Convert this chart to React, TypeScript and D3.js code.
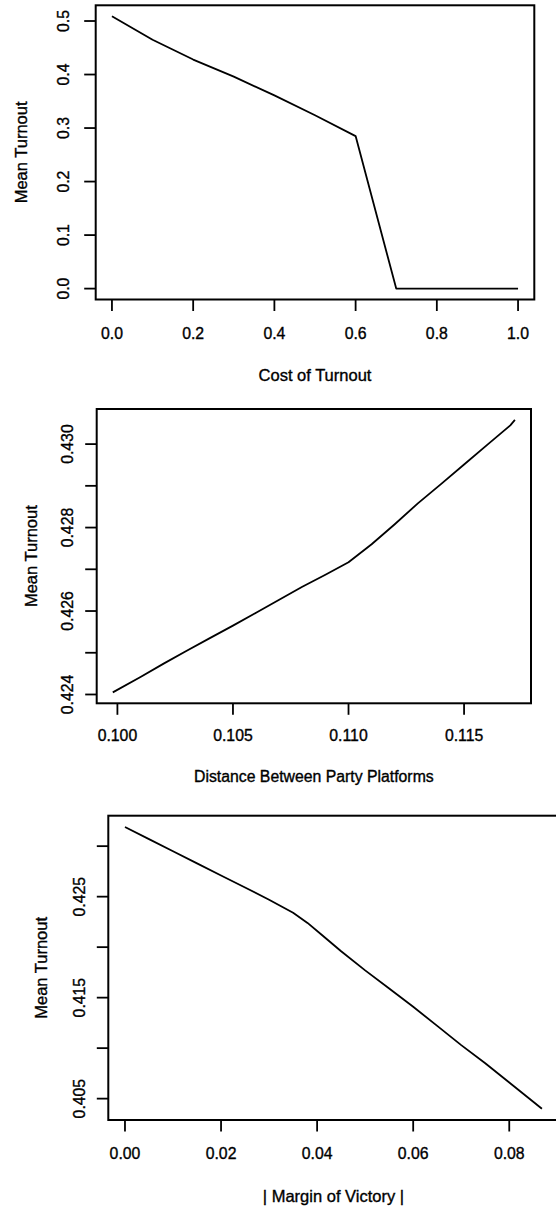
import React from "react";
import * as d3 from "d3";

// --- panel 1: cost of turnout ---
const costX = [0, 0.1, 0.2, 0.3, 0.4, 0.5, 0.6, 0.7, 0.8, 0.9, 1.0];
const costTurnout = [0.509, 0.465, 0.428, 0.396, 0.361, 0.324, 0.285, 0, 0, 0, 0];
const costXTicks = [0, 0.2, 0.4, 0.6, 0.8, 1.0];
const costYTicks = [0, 0.1, 0.2, 0.3, 0.4, 0.5];
const costYLabeled = [0, 0.1, 0.2, 0.3, 0.4, 0.5];

// --- panel 2: distance between party platforms ---
const distX = [0.0998, 0.101, 0.102, 0.103, 0.104, 0.105, 0.106, 0.107, 0.108, 0.109, 0.11,
  0.111, 0.112, 0.113, 0.114, 0.115, 0.116, 0.117, 0.1172];
const distTurnout = [0.42405, 0.42442, 0.42474, 0.42505, 0.42535, 0.42565, 0.42596, 0.42627,
  0.42658, 0.42687, 0.42717, 0.4276, 0.42808, 0.42858, 0.42904, 0.42951, 0.42998, 0.43045, 0.43058];
const distXTicks = [0.1, 0.105, 0.11, 0.115];
const distYTicks = [0.424, 0.425, 0.426, 0.427, 0.428, 0.429, 0.43];
const distYLabeled = [0.424, 0.426, 0.428, 0.43];

// --- panel 3: margin of victory ---
const marginX = [0, 0.005, 0.01, 0.015, 0.02, 0.025, 0.03, 0.035, 0.038, 0.041, 0.045, 0.05,
  0.055, 0.06, 0.065, 0.07, 0.075, 0.08, 0.0868];
const marginTurnout = [0.4319, 0.4307, 0.4295, 0.4283, 0.4271, 0.4259, 0.4247, 0.4234, 0.4224,
  0.4212, 0.4196, 0.4177, 0.4159, 0.4141, 0.4122, 0.4103, 0.4085, 0.4066, 0.404];
const marginXTicks = [0, 0.02, 0.04, 0.06, 0.08];
const marginYTicks = [0.405, 0.41, 0.415, 0.42, 0.425, 0.43];
const marginYLabeled = [0.405, 0.415, 0.425];

const FONT = "'Liberation Sans', Arial, Helvetica, sans-serif";

type PanelProps = {
  xs: number[];
  ys: number[];
  xTicks: number[];
  yTicks: number[];
  yLabeled: number[];
  xFmt: (v: number) => string;
  yFmt: (v: number) => string;
  xLabel: string;
  xLabelSize: number;
  box: { l: number; r: number; t: number; b: number };
  xTickLabelY: number;
  xTitleY: number;
  yTickLabelX: number;
  yTitleX: number;
};

// R-style: data range padded 4% each side
const padded = (v: number[]) => {
  const [lo, hi] = d3.extent(v) as [number, number];
  const p = (hi - lo) * 0.04;
  return [lo - p, hi + p];
};

const Panel: React.FC<PanelProps> = (p) => {
  const { box } = p;
  const x = d3.scaleLinear().domain(padded(p.xs)).range([box.l, box.r]);
  const y = d3.scaleLinear().domain(padded(p.ys)).range([box.b, box.t]);
  const pts = p.xs.map((v, i) => [v, p.ys[i]] as [number, number]);
  const line = d3.line<[number, number]>().x((d) => x(d[0])).y((d) => y(d[1]));
  const tick = 11.5;
  const cy = (box.t + box.b) / 2;
  const cx = (box.l + box.r) / 2;
  // scanned text looks heavier, thicken it a bit
  const ink = { stroke: "#000", strokeWidth: 0.35 };

  return (
    <g fontFamily={FONT} fill="#000">
      <rect x={box.l} y={box.t} width={box.r - box.l} height={box.b - box.t}
        fill="none" stroke="#000" strokeWidth={2} />
      <path d={line(pts) || ""} fill="none" stroke="#000" strokeWidth={1.8} strokeLinejoin="round" />

      {p.xTicks.map((t) => (
        <g key={"x" + t}>
          <line x1={x(t)} x2={x(t)} y1={box.b} y2={box.b + tick} stroke="#000" strokeWidth={1.8} />
          <text x={x(t)} y={p.xTickLabelY} dy="0.35em" textAnchor="middle" fontSize={15.8} {...ink}>
            {p.xFmt(t)}
          </text>
        </g>
      ))}

      {p.yTicks.map((t) => (
        <g key={"y" + t}>
          <line x1={box.l - tick} x2={box.l} y1={y(t)} y2={y(t)} stroke="#000" strokeWidth={1.8} />
          {p.yLabeled.some((v) => Math.abs(v - t) < 1e-9) && (
            <text transform={`translate(${p.yTickLabelX},${y(t)}) rotate(-90)`}
              dy="0.35em" textAnchor="middle" fontSize={15.8} {...ink}>
              {p.yFmt(t)}
            </text>
          )}
        </g>
      ))}

      <text x={cx} y={p.xTitleY} dy="0.35em" textAnchor="middle" fontSize={p.xLabelSize} {...ink}>
        {p.xLabel}
      </text>
      <text transform={`translate(${p.yTitleX},${cy}) rotate(-90)`}
        dy="0.35em" textAnchor="middle" fontSize={16.5} {...ink}>
        Mean Turnout
      </text>
    </g>
  );
};

export default function App() {
  return (
    <svg width={556} height={1212} style={{ position: "absolute", left: 0, top: 0, background: "#fff" }}>
      <Panel
        xs={costX} ys={costTurnout}
        xTicks={costXTicks} yTicks={costYTicks} yLabeled={costYLabeled}
        xFmt={d3.format(".1f")} yFmt={d3.format(".1f")}
        xLabel="Cost of Turnout" xLabelSize={16.5}
        box={{ l: 95.7, r: 534.3, t: 5.3, b: 299.5 }}
        xTickLabelY={333.3} xTitleY={375}
        yTickLabelX={63.3} yTitleX={21.3}
      />
      <Panel
        xs={distX} ys={distTurnout}
        xTicks={distXTicks} yTicks={distYTicks} yLabeled={distYLabeled}
        xFmt={d3.format(".3f")} yFmt={d3.format(".3f")}
        xLabel="Distance Between Party Platforms" xLabelSize={15.8}
        box={{ l: 96.7, r: 531, t: 409, b: 703.3 }}
        xTickLabelY={735.7} xTitleY={776.7}
        yTickLabelX={67} yTitleX={31}
      />
      <Panel
        xs={marginX} ys={marginTurnout}
        xTicks={marginXTicks} yTicks={marginYTicks} yLabeled={marginYLabeled}
        xFmt={d3.format(".2f")} yFmt={d3.format(".3f")}
        xLabel="| Margin of Victory |" xLabelSize={16.5}
        box={{ l: 108.3, r: 558.6, t: 815.7, b: 1120 }}
        xTickLabelY={1153.3} xTitleY={1196}
        yTickLabelX={79.3} yTitleX={41}
      />
    </svg>
  );
}
